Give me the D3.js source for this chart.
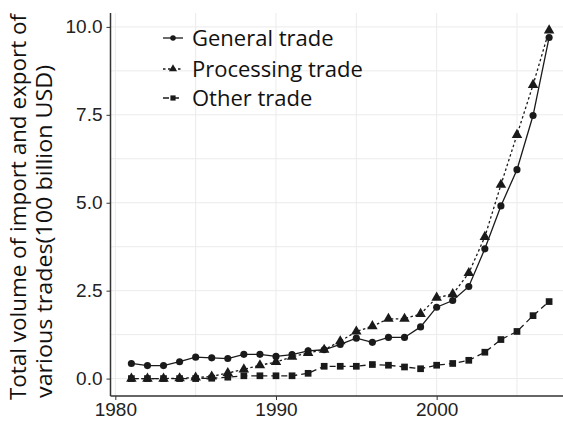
<!DOCTYPE html>
<html lang="en">
<head>
<meta charset="utf-8">
<title>Trade volumes</title>
<script src="https://cdn.jsdelivr.net/npm/d3@7"></script>
<style>
  body { margin: 0; background: #fff; }
  .grid line { stroke: #ebebeb; stroke-width: 1px; }
  .axis path, .axis line { stroke: #333; }
  .axis text { font-family: "Liberation Sans", Arial, sans-serif; font-size: 19px; fill: #222; }
  .legend text, .ytitle { font-family: "Open Sans", sans-serif; fill: #111; }
</style>
</head>
<body>
<svg width="563" height="424"></svg>
<script>
var years = d3.range(1981, 2008);

var general = [0.43, 0.37, 0.37, 0.48, 0.61, 0.59, 0.57, 0.69, 0.69, 0.63,
  0.68, 0.79, 0.82, 0.97, 1.15, 1.03, 1.17, 1.17, 1.47, 2.03,
  2.22, 2.62, 3.69, 4.91, 5.94, 7.48, 9.70];
var processing = [0.0, 0.0, 0.0, 0.01, 0.03, 0.06, 0.16, 0.26, 0.38, 0.47,
  0.62, 0.73, 0.82, 1.06, 1.34, 1.49, 1.70, 1.70, 1.84, 2.30,
  2.40, 3.00, 4.03, 5.51, 6.93, 8.35, 9.90];
var other = [0.0, 0.0, 0.0, 0.0, 0.0, 0.01, 0.04, 0.08, 0.08, 0.08,
  0.08, 0.15, 0.35, 0.35, 0.35, 0.40, 0.38, 0.33, 0.28, 0.38,
  0.43, 0.52, 0.75, 1.11, 1.34, 1.79, 2.19];

var seriesNames = ["General trade", "Processing trade", "Other trade"];
var xTicks = [1980, 1990, 2000];
var yTicks = [0, 2.5, 5, 7.5, 10];

var svg = d3.select("svg");

var x = d3.scaleLinear().domain([1979.7, 2008.3]).range([110.5, 570]);
var y = d3.scaleLinear().domain([-0.495, 10.395]).range([396, 13]);

// grid (major + minor)
var grid = svg.append("g").attr("class", "grid");
var xGrid = d3.range(1980, 2010, 5);
var yGrid = d3.range(0, 10.01, 1.25);
grid.selectAll("line.v").data(xGrid).enter().append("line")
  .attr("x1", function(d) { return x(d); }).attr("x2", function(d) { return x(d); })
  .attr("y1", y.range()[0]).attr("y2", y.range()[1]);
grid.selectAll("line.h").data(yGrid).enter().append("line")
  .attr("y1", function(d) { return y(d); }).attr("y2", function(d) { return y(d); })
  .attr("x1", x.range()[0]).attr("x2", x.range()[1]);

// axes
svg.append("g").attr("class", "axis")
  .attr("transform", "translate(0," + y.range()[0] + ")")
  .call(d3.axisBottom(x).tickValues(xTicks).tickFormat(d3.format("d")).tickSize(4).tickPadding(3))
  .call(function(g) { g.select(".domain").attr("d", "M" + x.range()[0] + ",0H" + x.range()[1]).attr("stroke-width", 1.5); });

svg.append("g").attr("class", "axis")
  .attr("transform", "translate(" + x.range()[0] + ",0)")
  .call(d3.axisLeft(y).tickValues(yTicks).tickFormat(d3.format(".1f")).tickSize(4).tickPadding(4))
  .call(function(g) { g.select(".domain").attr("d", "M0," + y.range()[1] + "V" + y.range()[0]).attr("stroke-width", 1.5); });

// y title, two lines starting at the bottom
var yt = svg.append("text").attr("class", "ytitle")
  .attr("transform", "translate(0,400) rotate(-90)")
  .attr("text-anchor", "start").style("font-size", "22px");
yt.append("tspan").attr("x", 0).attr("y", 26)
  .attr("textLength", 386).attr("lengthAdjust", "spacingAndGlyphs")
  .text("Total volume of import and export of");
yt.append("tspan").attr("x", 2).attr("y", 52)
  .attr("textLength", 333).attr("lengthAdjust", "spacingAndGlyphs")
  .text("various trades(100 billion USD)");

var line = d3.line()
  .x(function(d, i) { return x(years[i]); })
  .y(function(d) { return y(d); });

var styles = [
  { data: general, dash: null, shape: d3.symbolCircle, size: 40 },
  { data: processing, dash: "2.5,2.5", shape: d3.symbolTriangle, size: 48 },
  { data: other, dash: "6,4", shape: d3.symbolSquare, size: 45 }
];

styles.forEach(function(s) {
  svg.append("path")
    .attr("d", line(s.data))
    .attr("fill", "none")
    .attr("stroke", "#1a1a1a")
    .attr("stroke-width", 1.3)
    .attr("stroke-dasharray", s.dash);
  svg.append("g").selectAll("path").data(s.data).enter().append("path")
    .attr("d", d3.symbol().type(s.shape).size(s.size))
    .attr("transform", function(d, i) { return "translate(" + x(years[i]) + "," + y(d) + ")"; })
    .attr("fill", "#1a1a1a");
});

// legend
var legend = svg.append("g").attr("class", "legend");
var legY = [38, 69, 98];
seriesNames.forEach(function(name, i) {
  var s = styles[i];
  var g = legend.append("g").attr("transform", "translate(163," + legY[i] + ")");
  g.append("line").attr("x1", 0).attr("x2", 20).attr("y1", 0).attr("y2", 0)
    .attr("stroke", "#1a1a1a").attr("stroke-width", 1.3).attr("stroke-dasharray", s.dash);
  g.append("path").attr("d", d3.symbol().type(s.shape).size(s.size * 0.6))
    .attr("transform", "translate(10,0)").attr("fill", "#1a1a1a");
  g.append("text").attr("x", 29).attr("y", 0).attr("dy", "0.35em")
    .style("font-size", "22px").text(name);
});
</script>
</body>
</html>
